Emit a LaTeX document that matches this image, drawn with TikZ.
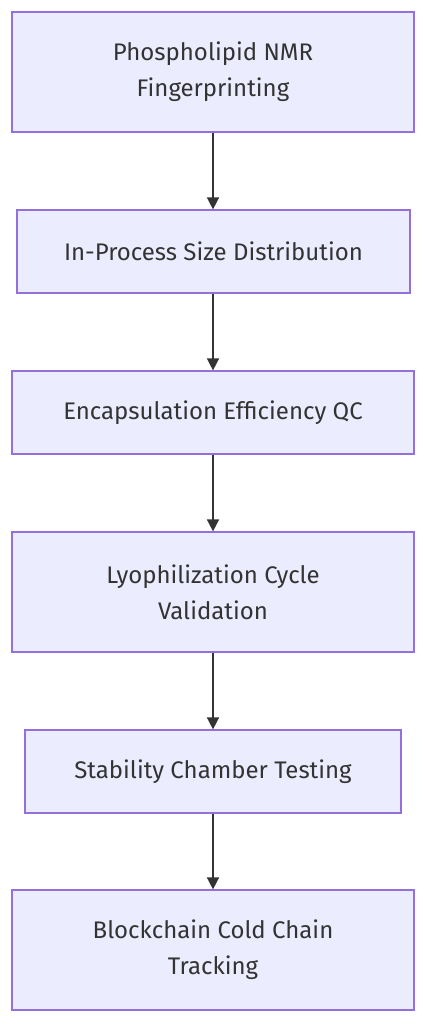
\documentclass[tikz,border=0pt]{standalone}
\usepackage{fontspec}
\setmainfont{Fira Sans}
\usetikzlibrary{arrows.meta}
\definecolor{boxfill}{HTML}{ECECFF}
\definecolor{boxline}{HTML}{9370DB}
\definecolor{ink}{HTML}{333333}
\begin{document}
\begin{tikzpicture}[x=1pt,y=-1pt,
  stepbox/.style={draw=boxline,fill=boxfill,line width=1.2pt,rectangle,inner sep=0pt,
    text=ink,align=center,font=\fontsize{24}{36}\selectfont},
  flow/.style={draw=ink,line width=1.5pt,-{Triangle[length=12pt,width=12pt]}}]
\useasboundingbox (0,0) rectangle (427,1024);
\node[stepbox,minimum width=402pt,minimum height=120pt] (a) at (213,72) {Phospholipid NMR\\Fingerprinting};
\node[stepbox,minimum width=393pt,minimum height=83pt] (b) at (213.5,251.5) {In-Process Size Distribution};
\node[stepbox,minimum width=402pt,minimum height=83pt] (c) at (213,412.5) {Encapsulation Efficiency QC};
\node[stepbox,minimum width=402pt,minimum height=120pt] (d) at (213,592) {Lyophilization Cycle\\Validation};
\node[stepbox,minimum width=376pt,minimum height=83pt] (e) at (213,771.5) {Stability Chamber Testing};
\node[stepbox,minimum width=402pt,minimum height=120pt] (f) at (213,950) {Blockchain Cold Chain\\Tracking};
\draw[flow] (a.south) -- (a.south |- b.north);
\draw[flow] (b.south -| a.south) -- (a.south |- c.north);
\draw[flow] (c.south) -- (d.north);
\draw[flow] (d.south) -- (e.north);
\draw[flow] (e.south) -- (f.north);
\end{tikzpicture}
\end{document}
